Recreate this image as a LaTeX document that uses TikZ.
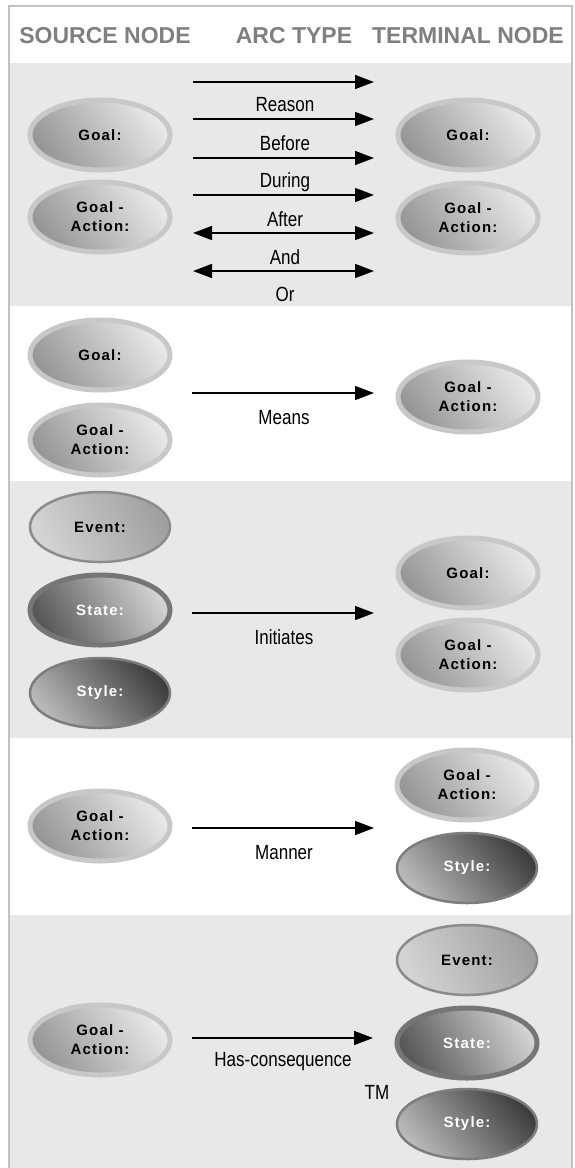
\documentclass[tikz,border=0pt]{standalone}
\usepackage{fontspec}
\setmainfont{Liberation Sans}
\newfontfamily\narrowfont[FakeStretch=0.83]{Liberation Sans}
\newfontfamily\ovalfont[LetterSpace=8]{Liberation Sans}
\usetikzlibrary{shapes.geometric,arrows.meta,positioning,backgrounds}

\definecolor{bandgray}{HTML}{E8E8E8}
\definecolor{framegray}{HTML}{C2C2C2}
\definecolor{headgray}{HTML}{7F7F7F}

\begin{document}
\begin{tikzpicture}[
  x=1pt, y=-1pt,
  oval/.style={ellipse, minimum width=140pt, minimum height=70pt, inner sep=0pt,
    align=center, font=\ovalfont\bfseries\fontsize{15}{19}\selectfont},
  goalbox/.style={oval, draw={rgb,255:red,200;green,200;blue,200}, line width=5pt,
    left color={rgb,255:red,150;green,150;blue,150}, right color={rgb,255:red,232;green,232;blue,232},
    shading angle=125, text=black},
  eventbox/.style={oval, draw={rgb,255:red,140;green,140;blue,140}, line width=2.5pt,
    left color={rgb,255:red,212;green,212;blue,212}, right color={rgb,255:red,160;green,160;blue,160},
    shading angle=115, text=black},
  statebox/.style={oval, draw={rgb,255:red,118;green,118;blue,118}, line width=5pt,
    left color={rgb,255:red,88;green,88;blue,88}, right color={rgb,255:red,210;green,210;blue,210},
    shading angle=120, text=white},
  stylebox/.style={oval, draw={rgb,255:red,125;green,125;blue,125}, line width=2.5pt,
    left color={rgb,255:red,185;green,185;blue,185}, right color={rgb,255:red,62;green,62;blue,62},
    shading angle=130, text=white},
  arc/.style={-{Triangle[length=19pt,width=14pt]}, line width=1.5pt},
  biarc/.style={{Triangle[length=19pt,width=14pt]}-{Triangle[length=19pt,width=14pt]}, line width=1.5pt},
  arclabel/.style={font=\narrowfont\fontsize{20.5}{22}\selectfont},
  head/.style={font=\bfseries\fontsize{23}{26}\selectfont, text=headgray}
]
\useasboundingbox (0,0) rectangle (574,1168);

% Background bands and the frame
\begin{scope}[on background layer]
  \fill[bandgray] (10,63) rectangle (571,306);
  \fill[bandgray] (10,481) rectangle (571,738);
  \fill[bandgray] (10,915) rectangle (571,1168);
  \draw[framegray, line width=2pt] (9,1168) -- (9,6) -- (572,6) -- (572,1168);
\end{scope}

% Column headings
\node[head] (hsrc) at (105,36) {SOURCE NODE};
\node[head] (harc) at (294,36) {ARC TYPE};
\node[head] (hterm) at (468,36) {TERMINAL NODE};

% Band 1: goal to goal
\node[goalbox] (S1a) at (100,135) {Goal:};
\node[goalbox] (S1b) at (100,217) {Goal -\\Action:};
\node[goalbox] (T1a) at (468,135) {Goal:};
\node[goalbox] (T1b) at (468,218) {Goal -\\Action:};

\foreach \i/\y in {1/82,2/119,3/158,4/195,5/233,6/271} {
  \coordinate (a\i s) at (193,\y);
  \coordinate (a\i e) at (374,\y);
}
\draw[arc] (a1s) -- (a1e);
\draw[arc] (a2s) -- (a2e);
\draw[arc] (a3s) -- (a3e);
\draw[arc] (a4s) -- (a4e);
\draw[biarc] (a5s) -- (a5e);
\draw[biarc] (a6s) -- (a6e);

\node[arclabel] (Lreason) at (285,105) {Reason};
\node[arclabel] (Lbefore) at (285,143) {Before};
\node[arclabel] (Lduring) at (285,182) {During};
\node[arclabel] (Lafter) at (285,219) {After};
\node[arclabel] (Land) at (285,257) {And};
\node[arclabel] (Lor) at (285,294) {Or};

% Band 2: means
\node[goalbox] (S2a) at (100,355) {Goal:};
\node[goalbox] (S2b) at (100,440) {Goal -\\Action:};
\node[goalbox] (T2a) at (468,397) {Goal -\\Action:};
\coordinate (m2s) at (192,393);
\coordinate (m2e) at (374,393);
\draw[arc] (m2s) -- (m2e);
\node[arclabel] (Lmeans) at (284,418) {Means};

% Band 3: initiates
\node[eventbox] (S3a) at (100,527) {Event:};
\node[statebox] (S3b) at (100,610) {State:};
\node[stylebox] (S3c) at (100,693) {Style:};
\node[goalbox] (T3a) at (468,573) {Goal:};
\node[goalbox] (T3b) at (468,655) {Goal -\\Action:};
\coordinate (i3s) at (192,613);
\coordinate (i3e) at (374,613);
\draw[arc] (i3s) -- (i3e);
\node[arclabel] (Linit) at (284,637) {Initiates};

% Band 4: manner
\node[goalbox] (S4a) at (100,826) {Goal -\\Action:};
\node[goalbox] (T4a) at (467,785) {Goal -\\Action:};
\node[stylebox] (T4b) at (467,868) {Style:};
\coordinate (n4s) at (192,828);
\coordinate (n4e) at (374,828);
\draw[arc] (n4s) -- (n4e);
\node[arclabel] (Lmanner) at (284,853) {Manner};

% Band 5: has-consequence
\node[goalbox] (S5a) at (100,1040) {Goal -\\Action:};
\node[eventbox] (T5a) at (467,960) {Event:};
\node[statebox] (T5b) at (467,1043) {State:};
\node[stylebox] (T5c) at (467,1124) {Style:};
\coordinate (c5s) at (192,1038);
\coordinate (c5e) at (373,1038);
\draw[arc] (c5s) -- (c5e);
\node[arclabel] (Lcons) at (283,1062) {Has-consequence};
\node[arclabel] (tm) at (377,1092) {TM};

\end{tikzpicture}
\end{document}
